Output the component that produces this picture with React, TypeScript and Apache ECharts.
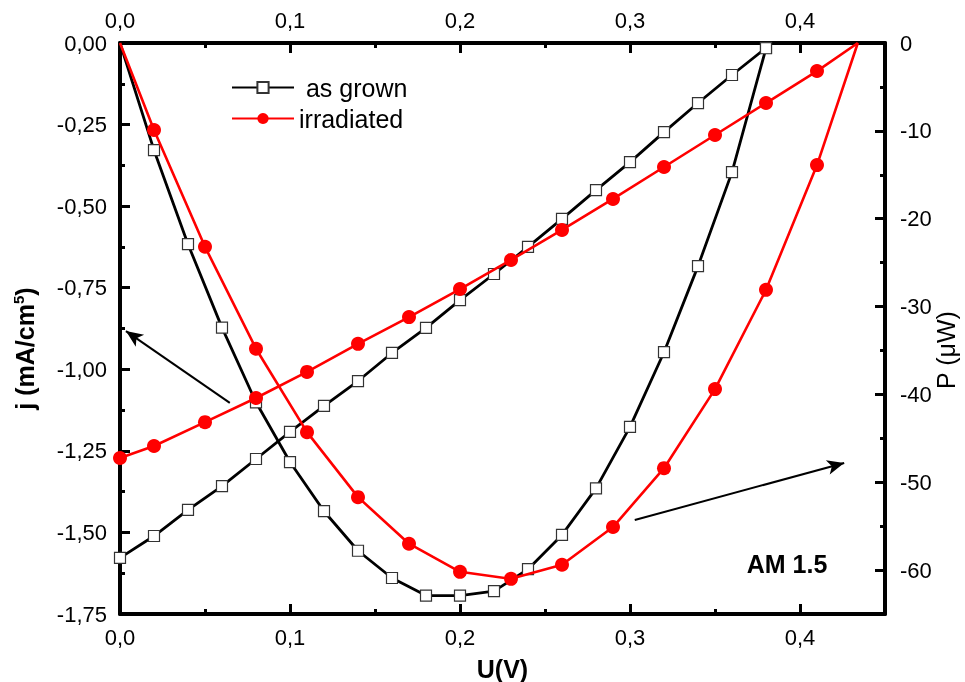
import React, { useEffect, useRef } from "react";
import * as echarts from "echarts";

// ---- data ----
const U_GROWN = [0, 0.02, 0.04, 0.06, 0.08, 0.1, 0.12, 0.14, 0.16, 0.18, 0.2, 0.22, 0.24, 0.26, 0.28, 0.3, 0.32, 0.34, 0.36, 0.38];
const J_GROWN = [-1.578, -1.511, -1.431, -1.358, -1.275, -1.192, -1.112, -1.036, -0.95, -0.873, -0.788, -0.708, -0.625, -0.539, -0.451, -0.365, -0.273, -0.184, -0.098, -0.015];
const P_GROWN = [0, -12.2, -22.9, -32.4, -40.9, -47.7, -53.3, -57.8, -60.9, -62.9, -62.9, -62.4, -59.9, -56.0, -50.7, -43.7, -35.2, -25.4, -14.7, -0.6];

const U_IRR = [0, 0.02, 0.05, 0.08, 0.11, 0.14, 0.17, 0.2, 0.23, 0.26, 0.29, 0.32, 0.35, 0.38, 0.41];
const J_IRR = [-1.272, -1.235, -1.162, -1.088, -1.008, -0.922, -0.84, -0.754, -0.665, -0.573, -0.478, -0.38, -0.282, -0.184, -0.086];
const P_IRR = [0, -9.9, -23.2, -34.8, -44.3, -51.7, -57.0, -60.2, -61.0, -59.4, -55.1, -48.4, -39.4, -28.1, -13.9];
// open-circuit end point of the irradiated curves (line only, no marker)
const U_OC_IRR = 0.434;

const X_MAJOR = [0, 0.1, 0.2, 0.3, 0.4];
const X_MINOR = [0.05, 0.15, 0.25, 0.35];
const J_MAJOR = [-1.75, -1.5, -1.25, -1.0, -0.75, -0.5, -0.25, 0];
const J_MINOR = [-1.625, -1.375, -1.125, -0.875, -0.625, -0.375, -0.125];
const P_MAJOR = [-60, -50, -40, -30, -20, -10, 0];
const P_MINOR = [-55, -45, -35, -25, -15, -5];

// annotation arrows, in (U, j) data coordinates: [from, to]
const ARROWS: [number, number][][] = [
  [[0.0646, -1.103], [0.0035, -0.883]],
  [[0.3028, -1.462], [0.426, -1.287]],
];

const FONT = "Arial, 'Liberation Sans', sans-serif";

export default function App() {
  const ref = useRef<HTMLDivElement>(null);
  useEffect(() => {
    document.body.style.margin = "0";
    const chart = echarts.init(ref.current!, null, { renderer: "svg" });

    const axisLine = { show: true, onZero: false, lineStyle: { color: "#000", width: 4 } };
    const majorTick = (vals: number[]) => ({
      show: true, inside: true, length: 10, customValues: vals,
      lineStyle: { color: "#000", width: 3 },
    });
    const minorTick = (vals: number[]) => ({
      show: true, inside: true, length: 5, customValues: vals,
      lineStyle: { color: "#000", width: 3 },
    });
    const label = (vals: number[], fmt: (v: number) => string, margin: number) => ({
      show: true, customValues: vals, formatter: fmt, fontSize: 22, color: "#000",
      fontFamily: FONT, margin,
    });
    const fx = (v: number) => v.toFixed(1).replace(".", ",");
    const fj = (v: number) => (Math.abs(v) < 1e-9 ? "0,00" : v.toFixed(2).replace(".", ","));
    const fp = (v: number) => String(Math.round(v));

    const xBase = { type: "value", min: 0, max: 0.45, splitLine: { show: false } };
    const jBase = { type: "value", min: -1.75, max: 0, splitLine: { show: false } };
    const pBase = { type: "value", min: -65, max: 0, splitLine: { show: false } };

    const grownStyle = {
      type: "line", name: "as grown", symbol: "rect", symbolSize: 11,
      lineStyle: { color: "#000", width: 2.8 },
      itemStyle: { color: "#fff", borderColor: "#333", borderWidth: 1.2 },
      emphasis: { disabled: true }, z: 2,
    };
    const irrStyle = {
      type: "line", name: "irradiated", symbol: "circle", symbolSize: 14,
      lineStyle: { color: "#ff0000", width: 2.6 },
      itemStyle: { color: "#ff0000" },
      emphasis: { disabled: true }, z: 3,
    };

    // the P curves start at the origin without a marker
    const pts = (xs: number[], ys: number[], noFirstMarker: boolean) =>
      xs.map((u, i) => (noFirstMarker && i === 0 ? { value: [u, ys[i]], symbol: "none" } : [u, ys[i]]));
    const irrData = (ys: number[], noFirstMarker: boolean) => [
      ...pts(U_IRR, ys, noFirstMarker),
      { value: [U_OC_IRR, 0], symbol: "none" },
    ];

    chart.setOption({
      animation: false,
      textStyle: { fontFamily: FONT },
      grid: { left: 120, right: 80, top: 43, bottom: 68, containLabel: false, outerBoundsMode: "none" },
      legend: {
        show: true, orient: "vertical", left: 226, top: 70,
        itemWidth: 62, itemHeight: 14, itemGap: 6,
        data: ["as grown", "irradiated"],
        formatter: (n: string) => (n === "as grown" ? " as grown" : n),
        textStyle: { fontSize: 25, color: "#000", fontFamily: FONT },
      },
      xAxis: [
        {
          ...xBase, position: "bottom", axisLine, axisTick: majorTick(X_MAJOR),
          axisLabel: label(X_MAJOR, fx, 12),
          name: "U(V)", nameLocation: "middle", nameGap: 42,
          nameTextStyle: { fontSize: 25, fontWeight: "bold", color: "#000", fontFamily: FONT },
        },
        { ...xBase, position: "top", axisLine, axisTick: majorTick(X_MAJOR), axisLabel: label(X_MAJOR, fx, 12) },
        { ...xBase, position: "bottom", axisLine: { show: false, onZero: false }, axisTick: minorTick(X_MINOR), axisLabel: { show: false } },
        { ...xBase, position: "top", axisLine: { show: false, onZero: false }, axisTick: minorTick(X_MINOR), axisLabel: { show: false } },
      ],
      yAxis: [
        {
          ...jBase, position: "left", axisLine, axisTick: majorTick(J_MAJOR),
          axisLabel: label(J_MAJOR, fj, 13),
          name: "j (mA/cm{sup|5})", nameLocation: "middle", nameGap: 82, nameRotate: 90,
          nameTextStyle: {
            fontSize: 25, fontWeight: "bold", color: "#000", fontFamily: FONT, padding: [0, 40, 0, 0],
            rich: { sup: { fontSize: 15, fontWeight: "bold", color: "#000", fontFamily: FONT, verticalAlign: "top", padding: [0, 0, 12, 0] } },
          },
        },
        {
          ...pBase, position: "right", axisLine, axisTick: majorTick(P_MAJOR),
          axisLabel: label(P_MAJOR, fp, 15),
        },
        { ...jBase, position: "left", axisLine: { show: false, onZero: false }, axisTick: minorTick(J_MINOR), axisLabel: { show: false } },
        { ...pBase, position: "right", axisLine: { show: false, onZero: false }, axisTick: minorTick(P_MINOR), axisLabel: { show: false } },
      ],
      series: [
        {
          ...grownStyle, xAxisIndex: 0, yAxisIndex: 0,
          data: pts(U_GROWN, J_GROWN, false),
          markLine: {
            silent: true, symbol: ["none", "arrow"], symbolSize: [11, 17],
            lineStyle: { color: "#000", width: 2, type: "solid" },
            label: { show: false }, emphasis: { disabled: true },
            data: ARROWS.map((a) => [{ coord: a[0] }, { coord: a[1] }]),
          },
        },
        { ...grownStyle, xAxisIndex: 0, yAxisIndex: 1, data: pts(U_GROWN, P_GROWN, true) },
        { ...irrStyle, xAxisIndex: 0, yAxisIndex: 0, data: irrData(J_IRR, false) },
        { ...irrStyle, xAxisIndex: 0, yAxisIndex: 1, data: irrData(P_IRR, true) },
      ],
      graphic: [
        {
          type: "text", x: 787, y: 564, silent: true,
          style: { text: "AM 1.5", fontSize: 25, fontWeight: "bold", fontFamily: FONT, fill: "#000", align: "center", verticalAlign: "middle" },
        },
        {
          type: "text", x: 946, y: 350, rotation: Math.PI / 2, silent: true,
          style: { text: "P (μW)", fontSize: 25, fontFamily: FONT, fill: "#000", align: "center", verticalAlign: "middle" },
        },
      ],
    });
    return () => chart.dispose();
  }, []);
  return <div ref={ref} style={{ position: "fixed", left: 0, top: 0, width: 965, height: 682 }} />;
}
